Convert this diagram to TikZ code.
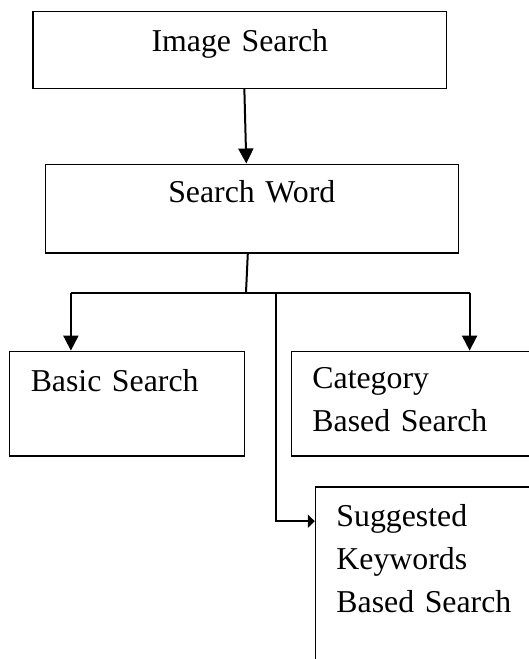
\documentclass[tikz,border=0pt]{standalone}
\usepackage{fontspec}
\setmainfont{Liberation Serif}
\usetikzlibrary{arrows.meta,positioning}

\begin{document}
\begin{tikzpicture}[
    x=1pt,y=-1pt,
    >={Triangle[length=15pt,width=15pt]},
    box/.style={
        draw=black, line width=1.3pt,
        rectangle,
        fill=white,
        anchor=north west,
        inner xsep=21pt,
        inner ysep=0pt,
        align=left,
        font=\fontsize{31.8pt}{43pt}\selectfont,
        text=black
    },
    link/.style={
        draw=black, line width=2pt
    },
    arrow/.style={
        link, ->
    }
]
\useasboundingbox (0,0) rectangle (529,659);
\clip (0,0) rectangle (529,659);

% ====== top boxes ======
\node[box, align=center, text width=371.6pt, text height=39.5pt, text depth=37.1pt]
    (img) at (32.4,11.1) {Image Search};
\node[box, align=center, text width=371.3pt, text height=38.5pt, text depth=50.4pt]
    (word) at (44.5,163.5) {Search Word};

\draw[arrow] ([xshift=4.5pt]img.south) -- ([xshift=-5.5pt]word.north);

% ====== search kinds ======
\node[box, text width=192.8pt, text height=40.4pt, text depth=64.2pt]
    (basic) at (9.1,350.6) {Basic Search};
\node[box, text width=212.2pt, text height=37.5pt, text depth=67.1pt]
    (cat) at (290.8,350.6) {Category\\Based Search};
\node[box, text width=188.2pt, text height=39.8pt, text depth=164pt]
    (sugg) at (314.8,486.2) {Suggested\\Keywords\\Based Search};

% fork below search word
\coordinate (fork)  at (246,292.5);
\coordinate (forkL) at (70.9,292.5);
\coordinate (forkR) at (469.6,292.5);
\coordinate (forkM) at (276,292.5);

\draw[link] ([xshift=-4pt]word.south) -- (fork);
\draw[link] (forkL) -- (forkR);
\draw[arrow] (forkL) -- (forkL |- basic.north);
\draw[arrow] (forkR) -- (forkR |- cat.north);
\draw[link, -{Triangle[length=7pt,width=13pt]}] (forkM) |- ([yshift=-35pt]sugg.north west);

\end{tikzpicture}
\end{document}
